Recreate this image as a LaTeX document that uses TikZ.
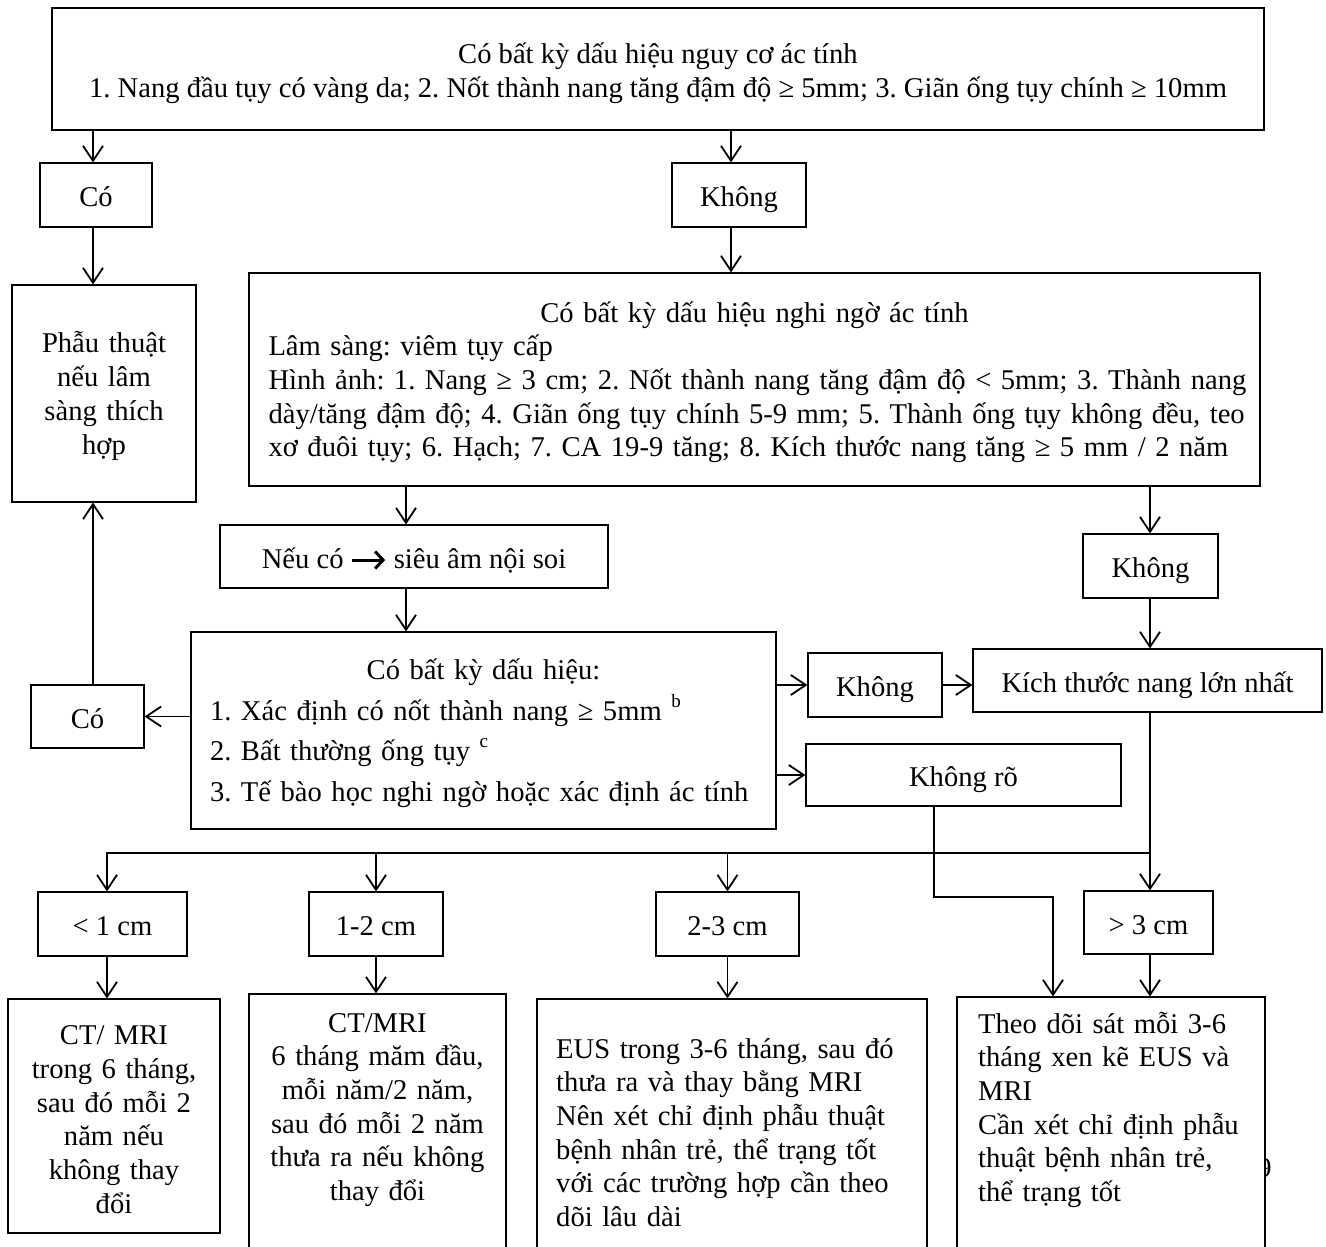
\documentclass[tikz,border=0pt]{standalone}
\usepackage{fontspec}
\setmainfont{Liberation Serif}
\usetikzlibrary{arrows.meta}

\newcommand\diagfont{\fontsize{28.6pt}{33.7pt}\selectfont\frenchspacing}
\newcommand\supmark[1]{\smash{\raisebox{13pt}{\fontsize{19pt}{19pt}\selectfont #1}}}
\newcommand\thenarrow{\tikz[x=1pt,y=1pt,baseline=-8pt]\draw[line width=3pt,-{Straight Barb[length=8pt,width=17pt,line width=3pt]}] (0,0) -- (33,0);}

\begin{document}
\begin{tikzpicture}[x=1pt,y=-1pt,
  box/.style={draw=black, line width=1.2pt, fill=white, inner sep=0pt, font=\diagfont},
  oneline/.style={text height=26pt, text depth=3pt},
  multiline/.style={text height=26pt},
  txt/.style={inner sep=0pt, font=\diagfont},
  arr/.style={line width=1.8pt, -{Straight Barb[length=15pt,width=20pt,line width=1.8pt]}},
]
\useasboundingbox (0,0) rectangle (1326,1247);
\fill[white] (0,0) rectangle (1326,1247);
\clip (0,0) rectangle (1326,1247);

% page number peeking out behind the last box
\node[txt] (pageno) at (1264.5,1168) {9};

% ---- top level ----
\node[box, minimum width=1212pt, minimum height=122pt] (risk) at (658,69) {};
\node[txt, align=center] (risktext) at (658,73)
  {Có bất kỳ dấu hiệu nguy cơ ác tính\\1. Nang đầu tụy có vàng da; 2. Nốt thành nang tăng đậm độ ≥ 5mm; 3. Giãn ống tụy chính ≥ 10mm};

\node[box, oneline, minimum width=112pt, minimum height=64pt] (yes1) at (96,195) {Có};
\node[box, oneline, minimum width=134pt, minimum height=64pt] (no1) at (739,195) {Không};

\node[box, multiline, minimum width=184pt, minimum height=217pt, text width=180pt, align=center] (surg) at (104,393.5)
  {Phẫu thuật\\nếu lâm\\sàng thích\\hợp};

\node[box, multiline, minimum width=1011pt, minimum height=213pt, text width=972pt, align=left] (susp) at (754.5,379.5)
  {\makebox[972pt][c]{Có bất kỳ dấu hiệu nghi ngờ ác tính}\\
   \makebox[972pt][l]{Lâm sàng: viêm tụy cấp}\\
   \makebox[972pt][s]{Hình ảnh: 1. Nang ≥ 3 cm; 2. Nốt thành nang tăng đậm độ < 5mm; 3. Thành nang}\\
   \makebox[972pt][s]{dày/tăng đậm độ; 4. Giãn ống tụy chính 5-9 mm; 5. Thành ống tụy không đều, teo}\\
   \makebox[972pt][l]{xơ đuôi tụy; 6. Hạch; 7. CA 19-9 tăng; 8. Kích thước nang tăng ≥ 5 mm / 2 năm}};

\node[box, oneline, minimum width=388pt, minimum height=63pt] (eus) at (414,556.5)
  {Nếu có \thenarrow{} siêu âm nội soi};

\node[box, oneline, minimum width=135pt, minimum height=64pt] (no3) at (1150.5,566) {Không};

\node[box, multiline, minimum width=585pt, minimum height=197pt, text width=547pt, align=left] (signs) at (483.5,730.5)
  {\makebox[547pt][c]{Có bất kỳ dấu hiệu:}\\[7.5pt]
   \makebox[547pt][l]{1. Xác định có nốt thành nang ≥ 5mm \supmark{b}}\\[6.5pt]
   \makebox[547pt][l]{2. Bất thường ống tụy \supmark{c}}\\[7.5pt]
   \makebox[547pt][l]{3. Tế bào học nghi ngờ hoặc xác định ác tính}};

\node[box, oneline, minimum width=113pt, minimum height=63pt] (yes2) at (87.5,716.5) {Có};
\node[box, oneline, minimum width=134pt, minimum height=64pt] (no2) at (875,685) {Không};
\node[box, oneline, minimum width=349pt, minimum height=63pt] (size) at (1147.5,680.5) {Kích thước nang lớn nhất};
\node[box, oneline, minimum width=315pt, minimum height=62pt] (unclear) at (963.5,775) {Không rõ};

% ---- size classes ----
\node[box, oneline, minimum width=149pt, minimum height=64pt] (lt1) at (112.5,924) {< 1 cm};
\node[box, oneline, minimum width=134pt, minimum height=64pt] (s12) at (376,924) {1-2 cm};
\node[box, oneline, minimum width=143pt, minimum height=64pt] (s23) at (727.5,924) {2-3 cm};
\node[box, oneline, minimum width=129pt, minimum height=63pt] (gt3) at (1148.5,922.5) {> 3 cm};

% ---- follow-up recommendations ----
\node[box, multiline, minimum width=212pt, minimum height=234pt, text width=205pt, align=center] (resA) at (114,1116)
  {CT/ MRI\\trong 6 tháng,\\sau đó mỗi 2\\năm nếu\\không thay\\đổi};

\node[box, minimum width=257pt, minimum height=268pt] (resB) at (377.5,1128) {};
\node[txt, anchor=base, text width=250pt, align=center] (resBtext) at (377.5,1032)
  {CT/MRI\\6 tháng măm đầu,\\mỗi năm/2 năm,\\sau đó mỗi 2 năm\\thưa ra nếu không\\thay đổi};

\node[box, minimum width=390pt, minimum height=263pt] (resC) at (732,1130.5) {};
\node[txt, anchor=base west, text width=360pt, align=left] (resCtext) at (556,1058)
  {EUS trong 3-6 tháng, sau đó\\thưa ra và thay bằng MRI\\Nên xét chỉ định phẫu thuật\\bệnh nhân trẻ, thể trạng tốt\\với các trường hợp cần theo\\dõi lâu dài};

\node[box, minimum width=308pt, minimum height=265pt] (resD) at (1111,1129.5) {};
\node[txt, anchor=base west, text width=285pt, align=left] (resDtext) at (978,1033)
  {Theo dõi sát mỗi 3-6\\tháng xen kẽ EUS và\\MRI\\Cần xét chỉ định phẫu\\thuật bệnh nhân trẻ,\\thể trạng tốt};

% ---- connector guide lines ----
\coordinate (xL) at (93,0);
\coordinate (xK) at (731,0);
\coordinate (xE) at (406,0);
\coordinate (xR) at (1150,0);
\coordinate (xA) at (107,0);
\coordinate (xU) at (934,0);
\coordinate (xV) at (1053,0);
\coordinate (bus) at (0,853);
\coordinate (kink) at (0,897);

% left branch
\draw[arr] (xL |- risk.south) -- (xL |- yes1.north);
\draw[arr] (xL |- yes1.south) -- (xL |- surg.north);
\draw[arr] (xL |- yes2.north) -- (xL |- surg.south);

% middle branch
\draw[arr] (xK |- risk.south) -- (xK |- no1.north);
\draw[arr] (xK |- no1.south) -- (xK |- susp.north);
\draw[arr] (xE |- susp.south) -- (xE |- eus.north);
\draw[arr] (xE |- eus.south) -- (xE |- signs.north);
\draw[arr] (signs.west |- yes2) -- (yes2.east);
\draw[arr] (signs.east |- no2) -- (no2.west);
\draw[arr] (no2.east) -- (size.west |- no2);
\draw[arr] (signs.east |- unclear) -- (unclear.west);

% right branch
\draw[arr] (xR |- susp.south) -- (xR |- no3.north);
\draw[arr] (xR |- no3.south) -- (xR |- size.north);

% distribution by size
\draw[arr] (xR |- size.south) -- (xR |- gt3.north);
\draw[arr] (xR |- bus) -- (xA |- bus) -- (xA |- lt1.north);
\draw[arr] (s12.north |- bus) -- (s12.north);
\draw[arr] (s23.north |- bus) -- (s23.north);

\draw[arr] (xA |- lt1.south) -- (xA |- resA.north);
\draw[arr] (s12.south) -- (s12.south |- resB.north);
\draw[arr] (s23.south) -- (s23.south |- resC.north);
\draw[arr] (xR |- gt3.south) -- (xR |- resD.north);

% unclear result goes to close follow-up
\draw[arr] (xU |- unclear.south) -- (xU |- kink) -- (xV |- kink) -- (xV |- resD.north);
\end{tikzpicture}
\end{document}
